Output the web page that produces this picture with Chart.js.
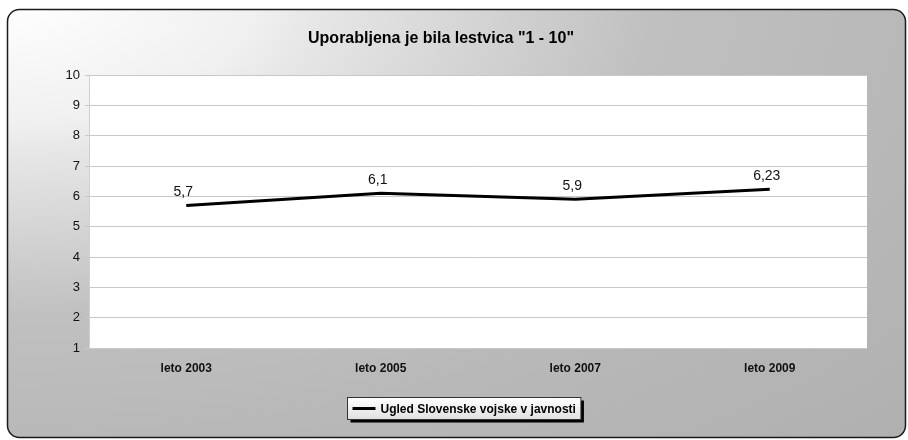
<!DOCTYPE html>
<html lang="sl">
<head>
  <meta charset="UTF-8">
  <title>Ugled Slovenske vojske v javnosti</title>
  <script src="https://cdn.jsdelivr.net/npm/chart.js"></script>
  <style>
    html, body { margin: 0; padding: 0; background: #ffffff; }
    #wrap { width: 908px; height: 440px; }
  </style>
</head>
<body>
  <div id="wrap"><canvas id="chart" width="908" height="440"></canvas></div>

  <script>
    // podatki
    const labels = ['leto 2003', 'leto 2005', 'leto 2007', 'leto 2009'];
    const values = [5.7, 6.1, 5.9, 6.23];
    const valueLabels = ['5,7', '6,1', '5,9', '6,23'];
    const seriesName = 'Ugled Slovenske vojske v javnosti';
    const titleText = 'Uporabljena je bila lestvica "1 - 10"';

    const FONT = '"Liberation Sans", Arial, sans-serif';

    // ozadje z obrobo in belo risalno površino
    const frame = {
      id: 'frame',
      beforeDraw(chart) {
        const ctx = chart.ctx;
        const W = chart.width, H = chart.height;
        const x = 7.5, y = 9.5, w = 898, h = 428, r = 12;
        ctx.save();
        ctx.beginPath();
        ctx.roundRect(x, y, w, h, r);
        ctx.save();
        ctx.clip();
        ctx.scale(1, H / W);
        const g = ctx.createRadialGradient(0, 0, 0, 0, 0, W * 1.41);
        g.addColorStop(0, '#ffffff');
        g.addColorStop(0.2, '#f0f0f0');
        g.addColorStop(0.24, '#e8e8e8');
        g.addColorStop(0.51, '#c0c0c0');
        g.addColorStop(0.71, '#b8b8b8');
        g.addColorStop(1, '#b0b0b0');
        ctx.fillStyle = g;
        ctx.fillRect(0, 0, W, W);
        ctx.restore();
        ctx.lineWidth = 1.5;
        ctx.strokeStyle = '#1a1a1a';
        ctx.stroke();

        const a = chart.chartArea;
        ctx.fillStyle = '#ffffff';
        ctx.fillRect(a.left, a.top, a.right - a.left, a.bottom - a.top);
        ctx.restore();
      }
    };

    // naslov, oznake vrednosti in legenda
    const extras = {
      id: 'extras',
      afterDatasetsDraw(chart) {
        const ctx = chart.ctx;
        const meta = chart.getDatasetMeta(0);
        ctx.save();
        ctx.font = '14px ' + FONT;
        ctx.fillStyle = '#111111';
        ctx.textAlign = 'center';
        ctx.textBaseline = 'bottom';
        meta.data.forEach((pt, i) => {
          ctx.fillText(valueLabels[i], pt.x - 3, pt.y - 6);
        });
        ctx.restore();
      },
      afterDraw(chart) {
        const ctx = chart.ctx;
        ctx.save();
        ctx.font = 'bold 16px ' + FONT;
        ctx.fillStyle = '#000000';
        ctx.textAlign = 'center';
        ctx.textBaseline = 'middle';
        ctx.fillText(titleText, 441, 39);

        ctx.font = 'bold 12px ' + FONT;
        const tw = ctx.measureText(seriesName).width;
        const bw = tw + 38, bh = 22;
        const bx = Math.round(chart.width / 2 - bw / 2 + 10) + 0.5;
        const by = 397.5;
        ctx.fillStyle = '#000000';
        ctx.fillRect(bx + 3, by + 3, bw, bh);
        const g = ctx.createLinearGradient(0, by, 0, by + bh);
        g.addColorStop(0, '#ffffff');
        g.addColorStop(1, '#e0e0e0');
        ctx.fillStyle = g;
        ctx.fillRect(bx, by, bw, bh);
        ctx.strokeStyle = '#333333';
        ctx.lineWidth = 1;
        ctx.strokeRect(bx, by, bw, bh);
        ctx.beginPath();
        ctx.moveTo(bx + 5, by + bh / 2);
        ctx.lineTo(bx + 28, by + bh / 2);
        ctx.lineWidth = 3;
        ctx.strokeStyle = '#000000';
        ctx.stroke();
        ctx.fillStyle = '#000000';
        ctx.textAlign = 'left';
        ctx.fillText(seriesName, bx + 33, by + bh / 2 + 1);
        ctx.restore();
      }
    };

    new Chart(document.getElementById('chart'), {
      type: 'line',
      data: {
        labels: labels,
        datasets: [{
          label: seriesName,
          data: values,
          borderColor: '#000000',
          borderWidth: 3,
          pointRadius: 0,
          tension: 0,
          fill: false
        }]
      },
      options: {
        responsive: false,
        animation: false,
        layout: { padding: { top: 75, left: 0, right: 41, bottom: 52 } },
        plugins: {
          legend: { display: false },
          tooltip: { enabled: false },
          title: { display: false }
        },
        scales: {
          x: {
            offset: true,
            grid: { display: false, drawTicks: false },
            border: { display: false },
            ticks: {
              color: '#111111',
              font: { family: FONT, size: 12, weight: 'bold' },
              padding: 13,
              maxRotation: 0
            },
            afterFit(scale) { scale.height = 40; }
          },
          y: {
            min: 1,
            max: 10,
            ticks: {
              stepSize: 1,
              color: '#111111',
              font: { family: FONT, size: 13 },
              padding: 5
            },
            grid: { color: '#c8c8c8', lineWidth: 1, tickLength: 4 },
            border: { display: true, color: '#d0d0d0' },
            afterFit(scale) { scale.width = 89; }
          }
        }
      },
      plugins: [frame, extras]
    });
  </script>
</body>
</html>
